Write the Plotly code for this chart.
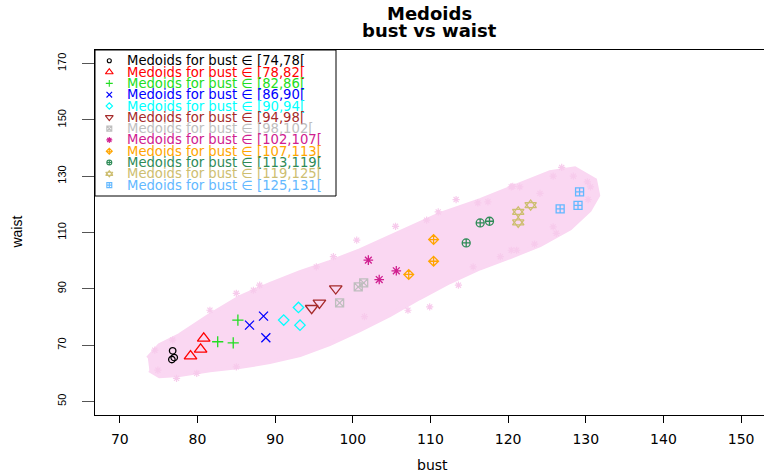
import plotly.graph_objects as go

# ---------------- data ----------------
# outline of the dense pink cloud of all observations (bust, waist)
cloud_bust = [73.6, 75.1, 77.7, 81.6, 85.4, 89.3, 93.2, 97.0, 100.9, 106.0, 111.2, 116.4,
              120.2, 125.4, 128.6, 131.2, 131.6, 130.5, 128.0, 124.1, 120.2, 116.4, 112.5,
              108.6, 104.8, 100.9, 97.0, 93.2, 89.3, 85.4, 81.6, 77.7, 75.1, 73.8]
cloud_waist = [65.4, 70.0, 73.6, 80.7, 87.0, 91.7, 95.9, 99.5, 103.7, 110.1, 116.5, 121.5,
               125.7, 131.4, 132.8, 128.6, 123.2, 117.9, 111.5, 105.5, 101.2, 97.3, 92.4,
               86.7, 80.7, 75.3, 70.4, 66.5, 64.0, 62.2, 61.1, 59.4, 59.0, 61.1]
# scattered observations at the fringe of the cloud
fringe_bust = [81.6, 85.0, 87.2, 88.0, 74.9, 74.5, 76.8, 77.3, 79.9, 85.0, 95.3, 113.3, 111.0,
               109.5, 105.5, 100.5, 97.5, 121.5, 120.4, 117.4, 116.1, 101.5, 107.1, 109.9,
               113.6, 115.5, 119.0, 120.4, 126.9, 125.8, 128.4, 130.2, 130.6, 130.3, 125.8,
               126.2, 123.4, 121.1, 120.6, 124.1]
fringe_waist = [82.4, 88.4, 89.5, 91.3, 61.1, 68.2, 71.8, 58.2, 60.0, 62.3, 97.8, 121.7, 117.3,
                114.4, 112.2, 107.3, 101.4, 126.2, 126.2, 120.9, 120.5, 80.1, 82.4, 83.6,
                91.3, 97.8, 101.4, 103.7, 133.1, 130.0, 130.0, 128.0, 126.2, 121.7, 112.0,
                109.7, 105.9, 103.7, 126.4, 123.9]

# medoids per bust class
bust_74_78 = [76.8, 76.7, 77.0]
waist_74_78 = [68.0, 64.9, 65.6]
bust_78_82 = [80.8, 80.4, 79.1]
waist_78_82 = [72.4, 68.5, 66.1]
bust_82_86 = [85.2, 82.6, 84.6]
waist_82_86 = [78.9, 71.2, 70.8]
bust_86_90 = [88.5, 86.7, 88.8]
waist_86_90 = [80.3, 77.1, 72.6]
bust_90_94 = [93.0, 91.1, 93.2]
waist_90_94 = [83.4, 78.9, 77.1]
bust_94_98 = [94.7, 95.7, 97.8]
waist_94_98 = [83.1, 85.0, 90.1]
bust_98_102 = [100.7, 101.4, 98.3]
waist_98_102 = [90.7, 92.1, 85.0]
bust_102_107 = [102.0, 105.6, 103.4]
waist_102_107 = [100.2, 96.4, 93.3]
bust_107_113 = [110.4, 110.4, 107.2]
waist_107_113 = [107.5, 99.8, 95.1]
bust_113_119 = [114.6, 116.4, 117.6]
waist_113_119 = [106.3, 113.4, 114.0]
bust_119_125 = [121.3, 121.3, 122.9]
waist_119_125 = [117.3, 113.6, 119.7]
bust_125_131 = [126.7, 129.2, 129.0]
waist_125_131 = [118.4, 124.4, 119.6]

class_labels = ["[74,78[", "[78,82[", "[82,86[", "[86,90[", "[90,94[", "[94,98[",
                "[98,102[", "[102,107[", "[107,113[", "[113,119[", "[119,125[", "[125,131["]
x_ticks = [70, 80, 90, 100, 110, 120, 130, 140, 150]
y_ticks = [50, 70, 90, 110, 130, 150, 170]

# ---------------- styling ----------------
colors = ["#000000", "#FF0000", "#22DD22", "#0000FF", "#00FFFF", "#A52A2A",
          "#BEBEBE", "#D02090", "#FFA500", "#2E8B57", "#CDBE70", "#63B8FF"]
symbols = [["circle-open"], ["triangle-up-open"], ["cross-thin-open"], ["x-thin-open"],
           ["diamond-open"], ["triangle-down-open"], ["square-x-open"], ["asterisk-open"],
           ["diamond-cross-open"], ["circle-cross-open"],
           ["triangle-up-open", "triangle-down-open"], ["square-cross-open"]]
sizes = [6.5, 11, 8, 9, 8, 11, 8, 8, 7.5, 8, 10, 8]

groups = [(bust_74_78, waist_74_78), (bust_78_82, waist_78_82), (bust_82_86, waist_82_86),
          (bust_86_90, waist_86_90), (bust_90_94, waist_90_94), (bust_94_98, waist_94_98),
          (bust_98_102, waist_98_102), (bust_102_107, waist_102_107),
          (bust_107_113, waist_107_113), (bust_113_119, waist_113_119),
          (bust_119_125, waist_119_125), (bust_125_131, waist_125_131)]

pink = "#FAD7F2"
fig = go.Figure()

fig.add_trace(go.Scatter(x=cloud_bust, y=cloud_waist, mode="lines", fill="toself",
                         fillcolor=pink, line=dict(color=pink, width=4),
                         hoverinfo="skip", showlegend=False))
fig.add_trace(go.Scatter(x=fringe_bust, y=fringe_waist, mode="markers",
                         marker=dict(symbol="asterisk-open", size=6, color="#F7CBEC",
                                     line=dict(color="#F7CBEC", width=1.2)),
                         hoverinfo="skip", showlegend=False))

for (gx, gy), col, syms, sz in zip(groups, colors, symbols, sizes):
    for s in syms:
        fig.add_trace(go.Scatter(x=gx, y=gy, mode="markers",
                                 marker=dict(symbol=s, size=sz, color=col,
                                             line=dict(color=col, width=1.3)),
                                 showlegend=False))

# ---------------- manual legend (pixel-space overlay axes) ----------------
leg_x_sym, leg_x_txt, leg_y0, leg_dy = 109.3, 124.5, 60.8, 11.3
for i, (lab, col, syms, sz) in enumerate(zip(class_labels, colors, symbols, sizes)):
    yy = leg_y0 + i * leg_dy
    for s in syms:
        fig.add_trace(go.Scatter(x=[leg_x_sym], y=[yy], xaxis="x2", yaxis="y2", mode="markers",
                                 marker=dict(symbol=s, size=sz * 0.62, color=col,
                                             line=dict(color=col, width=1.1)),
                                 hoverinfo="skip", showlegend=False))
    fig.add_annotation(x=leg_x_txt, y=yy, xref="x2", yref="y2", text="Medoids for bust ∈ " + lab,
                       showarrow=False, xanchor="left", yanchor="middle",
                       font=dict(family="DejaVu Sans", size=13.2, color=col))

fig.add_shape(type="rect", xref="x2", yref="y2", x0=95, x1=336, y0=50, y1=196,
              line=dict(color="black", width=1), fillcolor="white", layer="below")

# titles
fig.add_annotation(x=0.5, y=1.101, xref="paper", yref="paper", text="<b>Medoids</b>",
                   showarrow=False, xanchor="center", yanchor="middle",
                   font=dict(family="DejaVu Sans", size=18, color="black"))
fig.add_annotation(x=0.5, y=1.054, xref="paper", yref="paper", text="<b>bust vs waist</b>",
                   showarrow=False, xanchor="center", yanchor="middle",
                   font=dict(family="DejaVu Sans", size=18, color="black"))
fig.add_annotation(x=0.505, y=-0.137, xref="paper", yref="paper", text="bust",
                   showarrow=False, xanchor="center", yanchor="middle",
                   font=dict(family="DejaVu Sans", size=14, color="black"))
fig.add_annotation(x=-0.118, y=0.5, xref="paper", yref="paper", text="waist", textangle=-90,
                   showarrow=False, xanchor="center", yanchor="middle",
                   font=dict(family="Liberation Sans", size=14, color="black"))

fig.update_layout(
    width=764, height=472,
    margin=dict(l=95, r=0, t=50, b=57),
    plot_bgcolor="white", paper_bgcolor="white",
    showlegend=False,
    xaxis=dict(range=[66.8, 152.95], tickvals=x_ticks, ticks="outside", ticklen=7,
               tickcolor="black", showline=True, linecolor="black", linewidth=1, mirror=True,
               showgrid=False, zeroline=False, ticklabelstandoff=4,
               tickfont=dict(family="DejaVu Sans", size=14, color="black")),
    yaxis=dict(range=[45.2, 174.8], tickvals=y_ticks, ticks="outside", ticklen=12,
               tickcolor="#555", showline=True, linecolor="black", linewidth=1,
               showgrid=False, zeroline=False, tickangle=-90, ticklabelstandoff=12,
               tickfont=dict(family="Liberation Sans", size=11, color="black")),
    xaxis2=dict(range=[95, 764], overlaying="x", anchor="y2", visible=False),
    yaxis2=dict(range=[415, 50], overlaying="y", anchor="x2", visible=False),
)

# remove the browser's default 8px body margin so the figure fills the window exactly
fig.write_html("out.html", config={"displayModeBar": False},
               post_script="document.body.style.margin='0px';")
